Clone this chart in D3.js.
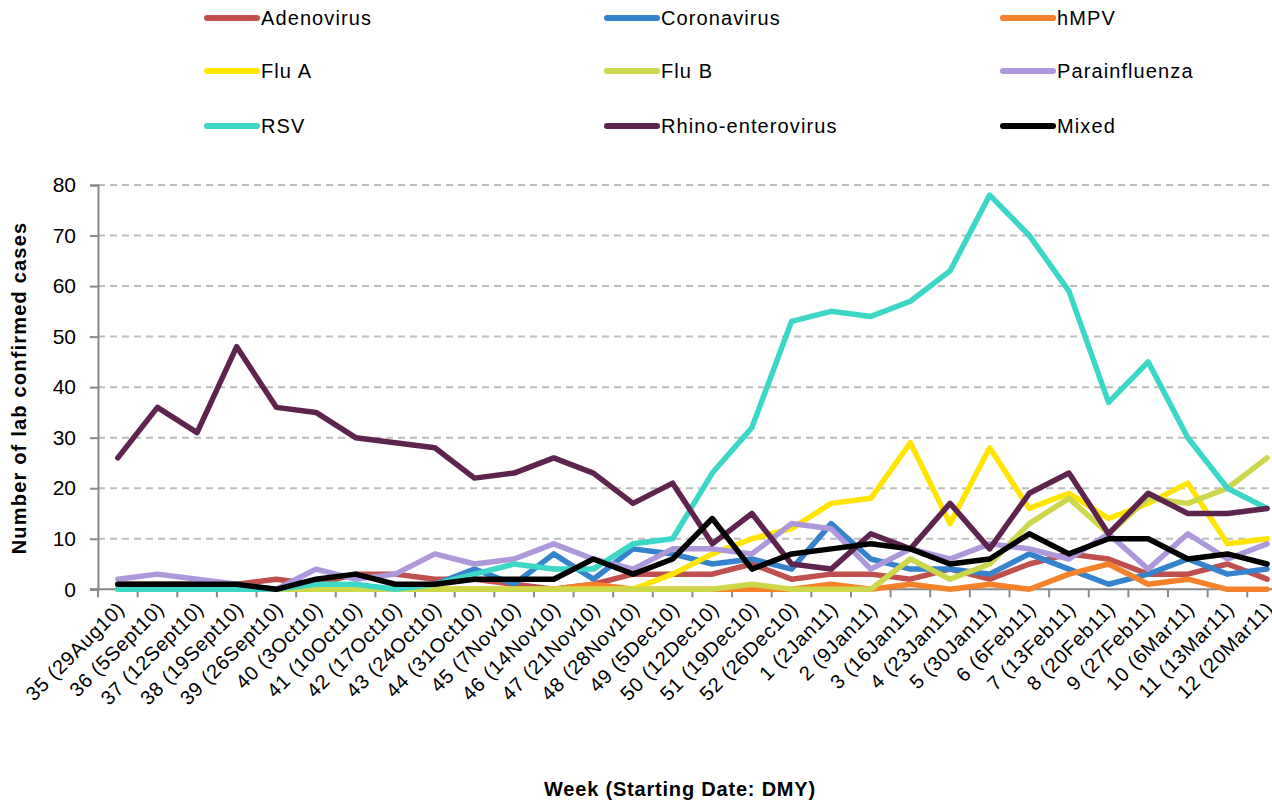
<!DOCTYPE html>
<html>
<head>
<meta charset="utf-8">
<script src="https://cdn.jsdelivr.net/npm/d3@7"></script>
<style>
  html, body { margin: 0; padding: 0; background: #ffffff; }
  svg { display: block; }
  text { font-family: "Liberation Sans", Arial, sans-serif; fill: #000; }
</style>
</head>
<body>
<div id="chart"></div>
<script>
const weeks = ["35 (29Aug10)","36 (5Sept10)","37 (12Sept10)","38 (19Sept10)","39 (26Sept10)","40 (3Oct10)","41 (10Oct10)","42 (17Oct10)","43 (24Oct10)","44 (31Oct10)","45 (7Nov10)","46 (14Nov10)","47 (21Nov10)","48 (28Nov10)","49 (5Dec10)","50 (12Dec10)","51 (19Dec10)","52 (26Dec10)","1 (2Jan11)","2 (9Jan11)","3 (16Jan11)","4 (23Jan11)","5 (30Jan11)","6 (6Feb11)","7 (13Feb11)","8 (20Feb11)","9 (27Feb11)","10 (6Mar11)","11 (13Mar11)","12 (20Mar11)"];

const seriesNames = ["Adenovirus","Coronavirus","hMPV","Flu A","Flu B","Parainfluenza","RSV","Rhino-enterovirus","Mixed"];

const adenovirus    = [1,1,1,1,2,1,3,3,2,2,1,0,1,3,3,3,5,2,3,3,2,4,2,5,7,6,3,3,5,2];
const coronavirus   = [0,0,0,0,0,0,0,0,1,4,1,7,2,8,7,5,6,4,13,6,4,4,3,7,4,1,3,6,3,4];
const hmpv          = [0,0,0,0,0,0,0,0,0,0,0,0,1,0,0,0,0,0,1,0,1,0,1,0,3,5,1,2,0,0];
const fluA          = [0,0,0,0,0,0,0,0,0,0,0,0,0,0,3,7,10,12,17,18,29,13,28,16,19,14,17,21,9,10];
const fluB          = [0,0,0,0,0,0,0,0,0,0,0,0,0,0,0,0,1,0,0,0,6,2,5,13,18,11,18,17,20,26];
const parainfluenza = [2,3,2,1,0,4,2,3,7,5,6,9,6,4,8,8,7,13,12,4,8,6,9,8,6,11,4,11,6,9];
const rsv           = [0,0,0,0,0,1,1,0,1,3,5,4,4,9,10,23,32,53,55,54,57,63,78,70,59,37,45,30,20,16];
const rhino         = [26,36,31,48,36,35,30,29,28,22,23,26,23,17,21,9,15,5,4,11,8,17,8,19,23,11,19,15,15,16];
const mixed         = [1,1,1,1,0,2,3,1,1,2,2,2,6,3,6,14,4,7,8,9,8,5,6,11,7,10,10,6,7,5];

const yTicks = [0,10,20,30,40,50,60,70,80];

const colors = ["#C0504D","#3583CC","#F5822A","#FFE600","#CDD74B","#AE98DC","#3CD7C6","#5E244E","#000000"];
const allValues = [adenovirus, coronavirus, hmpv, fluA, fluB, parainfluenza, rsv, rhino, mixed];

const series = seriesNames.map((name, i) => ({ name, color: colors[i], values: allValues[i] }));

const W = 1272, H = 802;
const plotLeft = 98, plotTop = 185, plotBottom = 589.3;
const step = 39.63;

const svg = d3.select("#chart").append("svg").attr("width", W).attr("height", H);

const x = d3.scaleBand().domain(weeks).range([plotLeft, plotLeft + step * weeks.length]).padding(0);
const y = d3.scaleLinear().domain([0, 80]).range([plotBottom, plotTop]);
const cx = d => x(d) + x.bandwidth() / 2;

// gridlines
svg.append("g").selectAll("line").data(yTicks.filter(t => t > 0)).join("line")
  .attr("x1", plotLeft).attr("x2", plotLeft + step * weeks.length)
  .attr("y1", d => y(d)).attr("y2", d => y(d))
  .attr("stroke", "#BDBDBD").attr("stroke-width", 2).attr("stroke-dasharray", "7,5");

// y axis
const yAxis = svg.append("g").attr("transform", `translate(${plotLeft},0)`)
  .call(d3.axisLeft(y).tickValues(yTicks).tickSize(8).tickPadding(14).tickFormat(d3.format("d")));
yAxis.select(".domain").attr("stroke", "#888").attr("stroke-width", 2);
yAxis.selectAll(".tick line").attr("stroke", "#888").attr("stroke-width", 2);
yAxis.selectAll(".tick text").attr("font-size", 21).attr("font-family", "'Liberation Sans', Arial, sans-serif").attr("fill", "#000");

// x axis (ticks at category boundaries)
const xAxisG = svg.append("g").attr("transform", `translate(0,${plotBottom})`);
xAxisG.append("line").attr("x1", plotLeft - 8).attr("x2", plotLeft + step * weeks.length)
  .attr("y1", 0).attr("y2", 0).attr("stroke", "#888").attr("stroke-width", 2);
xAxisG.selectAll("line.tk").data(d3.range(weeks.length + 1)).join("line").attr("class", "tk")
  .attr("x1", i => plotLeft + i * step).attr("x2", i => plotLeft + i * step)
  .attr("y1", 0).attr("y2", 8).attr("stroke", "#888").attr("stroke-width", 2);
xAxisG.selectAll("text").data(weeks).join("text")
  .attr("transform", d => `translate(${cx(d) + 3},${16}) rotate(-45)`)
  .attr("text-anchor", "end").attr("dy", "0.35em")
  .attr("font-size", 20).attr("letter-spacing", 0.7)
  .text(d => d);

// lines
const line = d3.line().x((v, i) => cx(weeks[i])).y(v => y(v));
svg.append("g").selectAll("path").data(series).join("path")
  .attr("d", s => line(s.values))
  .attr("fill", "none").attr("stroke", s => s.color)
  .attr("stroke-width", 5.5).attr("stroke-linejoin", "round").attr("stroke-linecap", "round");

// legend
const legX = [207, 607, 1003];
const legY = [18, 71, 126];
const leg = svg.append("g").selectAll("g").data(series).join("g")
  .attr("transform", (s, i) => `translate(${legX[i % 3]},${legY[Math.floor(i / 3)]})`);
leg.append("line").attr("x1", 0).attr("x2", 50).attr("y1", 0).attr("y2", 0)
  .attr("stroke", s => s.color).attr("stroke-width", 6).attr("stroke-linecap", "round");
leg.append("text").attr("x", 54).attr("dy", "0.36em").attr("font-size", 20)
  .attr("letter-spacing", 1.1).text(s => s.name);

// axis titles
svg.append("text").attr("transform", `translate(26,388) rotate(-90)`)
  .attr("text-anchor", "middle").attr("font-weight", "bold").attr("font-size", 20)
  .attr("letter-spacing", 1.2)
  .text("Number of lab confirmed cases");
svg.append("text").attr("x", 680).attr("y", 796)
  .attr("text-anchor", "middle").attr("font-weight", "bold").attr("font-size", 20)
  .attr("letter-spacing", 0.8)
  .text("Week (Starting Date: DMY)");
</script>
</body>
</html>
